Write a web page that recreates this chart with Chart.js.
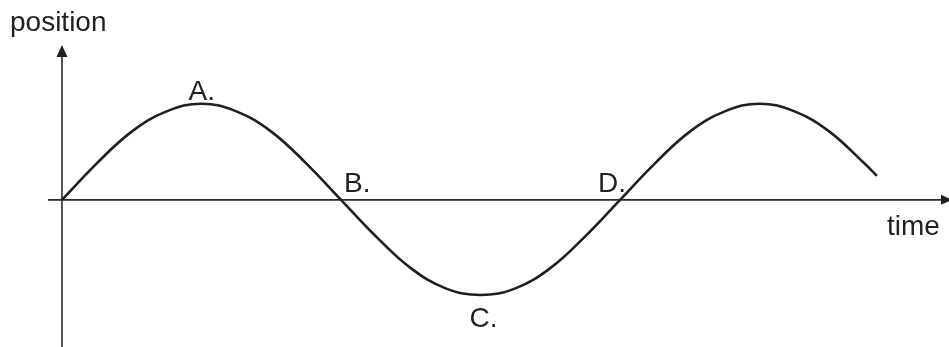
<!DOCTYPE html>
<html>
<head>
<meta charset="utf-8">
<script src="https://cdn.jsdelivr.net/npm/chart.js@4"></script>
<style>
  html, body { margin: 0; padding: 0; background: #fff; }
  canvas { display: block; }
</style>
</head>
<body>
<canvas id="myChart" width="949" height="347"></canvas>
<script>
// time in quarter periods, position
const times = [0, 0.25, 0.5, 0.75, 1, 1.25, 1.5, 1.75, 2, 2.25, 2.5, 2.75, 3, 3.25, 3.5, 3.75, 4, 4.25, 4.5, 4.75, 5, 5.25, 5.5, 5.75, 5.84];
const positions = [0, 0.38, 0.71, 0.92, 1, 0.92, 0.71, 0.38, 0, -0.38, -0.71, -0.92, -0.99, -0.92, -0.71, -0.38, 0, 0.38, 0.71, 0.92, 1, 0.92, 0.71, 0.38, 0.25];
const pointLabels = { 4: 'A.', 8: 'B.', 12: 'C.', 16: 'D.' };
const axisTitles = { x: 'time', y: 'position' };

const data = {
  datasets: [{
    label: 'position',
    data: times.map((t, i) => ({ x: t, y: positions[i] })),
    borderColor: '#1f1f1f',
    borderWidth: 2.6,
    pointRadius: 0,
    fill: false,
    tension: 0.4
  }]
};

// label offsets from their point (px)
const labelOffsets = {
  'A.': [-13, -4],
  'B.': [3, -8],
  'C.': [-11, 32],
  'D.': [-22, -8]
};

const axesPlugin = {
  id: 'axesPlugin',
  beforeDatasetsDraw(chart) {
    const { ctx, scales: { x, y } } = chart;
    const x0 = x.getPixelForValue(0);
    const y0 = y.getPixelForValue(0);
    ctx.save();
    ctx.strokeStyle = '#2b2b2b';
    ctx.fillStyle = '#1f1f1f';
    ctx.lineWidth = 1.6;
    // x axis
    ctx.beginPath();
    ctx.moveTo(48, y0);
    ctx.lineTo(944, y0);
    ctx.stroke();
    ctx.beginPath();
    ctx.moveTo(952, y0);
    ctx.lineTo(941, y0 - 5);
    ctx.lineTo(941, y0 + 5);
    ctx.closePath();
    ctx.fill();
    // y axis
    ctx.beginPath();
    ctx.moveTo(x0, 347);
    ctx.lineTo(x0, 54);
    ctx.stroke();
    ctx.beginPath();
    ctx.moveTo(x0, 45);
    ctx.lineTo(x0 - 5.5, 57);
    ctx.lineTo(x0 + 5.5, 57);
    ctx.closePath();
    ctx.fill();
    ctx.restore();
  },
  afterDraw(chart) {
    const { ctx, scales: { x, y } } = chart;
    ctx.save();
    ctx.font = '28px "Liberation Sans", Arial, sans-serif';
    ctx.fillStyle = '#231f20';
    ctx.textBaseline = 'alphabetic';
    ctx.textAlign = 'left';
    ctx.fillText(axisTitles.y, 10, 31);
    ctx.fillText(axisTitles.x, 887, 235);
    Object.keys(pointLabels).forEach(k => {
      const lab = pointLabels[k];
      const px = x.getPixelForValue(times[k]);
      const py = y.getPixelForValue(positions[k]);
      const off = labelOffsets[lab];
      ctx.fillText(lab, px + off[0], py + off[1]);
    });
    ctx.restore();
  }
};

const config = {
  type: 'line',
  data: data,
  options: {
    responsive: false,
    animation: false,
    layout: { padding: { left: 48, right: 1, top: 46, bottom: 0 } },
    plugins: { legend: { display: false }, tooltip: { enabled: false } },
    scales: {
      x: { type: 'linear', display: false, min: -0.1, max: 6.35 },
      y: { type: 'linear', display: false, min: -1.53, max: 1.6 }
    }
  },
  plugins: [axesPlugin]
};

const myChart = new Chart(document.getElementById('myChart'), config);
</script>
</body>
</html>
